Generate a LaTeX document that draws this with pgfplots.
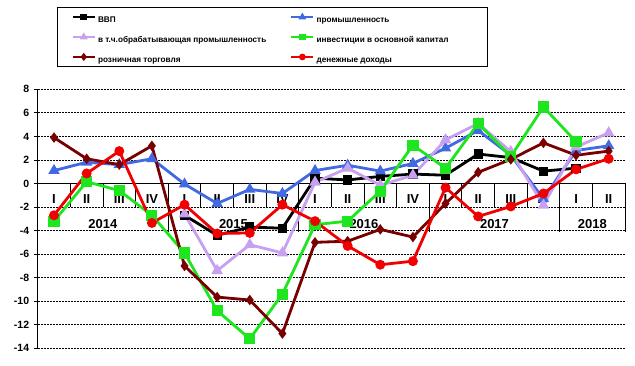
\documentclass[border=0pt]{standalone}
\usepackage{pgfplots}
\pgfplotsset{compat=1.18}
\usepackage{fontspec}
\setmainfont{Liberation Sans}
\definecolor{cBlue}{RGB}{65,105,225}
\definecolor{cPurple}{RGB}{200,160,240}
\definecolor{cGreen}{RGB}{30,230,30}
\definecolor{cBrown}{RGB}{120,0,0}
\definecolor{cRed}{RGB}{240,0,0}
\newcommand{\lstrut}{\rule[-6.1pt]{0pt}{18pt}}
\begin{document}
\begin{tikzpicture}[x=1pt,y=1pt]
\path[use as bounding box] (0,0) rectangle (635,365);
\begin{axis}[
  at={(37.7pt,16.7pt)}, anchor=south west,
  scale only axis, width=587.3pt, height=259pt,
  xmin=-0.5, xmax=17.5, ymin=-14, ymax=8,
  xtick=\empty, ytick={-14,-12,...,8},
  axis x line=none, axis y line=left,
  y axis line style={-, line width=0.9pt, black},
  ymajorgrids, grid style={black, line width=0.7pt, dash pattern=on 2pt off 1pt},
  tick align=outside, major tick length=3.5pt,
  ytick style={black, line width=0.8pt},
  /pgf/number format/assume math mode=true,
  yticklabel style={font=\bfseries\fontsize{10.5}{12}\selectfont, xshift=-1.5pt},
  clip=false,
  legend columns=2,
  legend cell align=left,
  legend style={at={(0.0329,1.3178)}, anchor=north west, draw=black, line width=0.9pt,
    inner xsep=14pt, inner ysep=3pt, row sep=6.5pt,
    nodes={inner sep=0pt},
    /tikz/every even column/.style={column sep=0pt},
    /tikz/every odd column/.style={column sep=0pt},
    font=\bfseries\fontsize{8.2}{10}\selectfont},
  legend image code/.code={\draw[mark repeat=2, mark phase=2, #1, line width=2.6pt, mark size=2pt] plot coordinates {(0pt,0pt)(11pt,0pt)(22pt,0pt)};},
  every axis plot/.append style={line width=2.8pt},
]
% category table
\draw[black, line width=0.9pt] (axis cs:-0.5,0) -- (axis cs:17.5,0);
\pgfplotsinvokeforeach{0.5,1.5,2.5,4.5,5.5,6.5,8.5,9.5,10.5,12.5,13.5,14.5,16.5}{
  \draw[black, line width=0.8pt] (axis cs:#1,0) -- (axis cs:#1,-2);}
\pgfplotsinvokeforeach{3.5,7.5,11.5,15.5,17.5}{
  \draw[black, line width=0.8pt] (axis cs:#1,0) -- (axis cs:#1,-4.1);}
\pgfplotsinvokeforeach{0,4,8,12,16}{
  \node[font=\bfseries\fontsize{13}{15}\selectfont] at (axis cs:#1,-1.3) {I};}
\pgfplotsinvokeforeach{1,5,9,13,17}{
  \node[font=\bfseries\fontsize{13}{15}\selectfont] at (axis cs:#1,-1.3) {II};}
\pgfplotsinvokeforeach{2,6,10,14}{
  \node[font=\bfseries\fontsize{13}{15}\selectfont] at (axis cs:#1,-1.3) {III};}
\pgfplotsinvokeforeach{3,7,11,15}{
  \node[font=\bfseries\fontsize{13}{15}\selectfont] at (axis cs:#1,-1.3) {IV};}
\node[font=\bfseries\fontsize{13}{15}\selectfont] at (axis cs:1.5,-3.45) {2014};
\node[font=\bfseries\fontsize{13}{15}\selectfont] at (axis cs:5.5,-3.45) {2015};
\node[font=\bfseries\fontsize{13}{15}\selectfont] at (axis cs:9.5,-3.45) {2016};
\node[font=\bfseries\fontsize{13}{15}\selectfont] at (axis cs:13.5,-3.45) {2017};
\node[font=\bfseries\fontsize{13}{15}\selectfont] at (axis cs:16.5,-3.45) {2018};

% ВВП
\addplot[black, mark=square*, mark size=3.2pt, mark options={solid}] coordinates {
(4,-2.7)(5,-4.4)(6,-3.7)(7,-3.8)(8,0.45)(9,0.3)(10,0.6)(11,0.8)(12,0.7)(13,2.5)(14,2.2)(15,1.05)(16,1.3)};
\addlegendentry{\makebox[194pt][l]{\hspace{2pt}ВВП\lstrut}}
% промышленность
\addplot[cBlue, mark=triangle*, mark size=3.8pt] coordinates {
(0,1.1)(1,1.8)(2,1.6)(3,2.1)(4,-0.05)(5,-1.7)(6,-0.5)(7,-0.85)(8,1.1)(9,1.55)(10,1.05)(11,1.7)(12,3.0)(13,4.5)(14,2.4)(15,-1.3)(16,2.8)(17,3.2)};
\addlegendentry{\makebox[159pt][l]{\hspace{2pt}промышленность\lstrut}}
% обрабатывающая
\addplot[cPurple, mark=triangle*, mark size=4pt] coordinates {
(4,-2.6)(5,-7.4)(6,-5.2)(7,-5.9)(8,0.1)(9,1.3)(10,-0.15)(11,0.7)(12,3.7)(13,5.1)(14,2.7)(15,-1.85)(16,3.1)(17,4.3)};
\addlegendentry{\makebox[194pt][l]{\hspace{2pt}в т.ч.обрабатывающая промышленность\lstrut}}
% инвестиции
\addplot[cGreen, mark=square*, mark size=4.2pt] coordinates {
(0,-3.2)(1,0.15)(2,-0.6)(3,-2.7)(4,-5.9)(5,-10.8)(6,-13.2)(7,-9.4)(8,-3.5)(9,-3.2)(10,-0.65)(11,3.25)(12,1.3)(13,5.1)(14,2.3)(15,6.5)(16,3.55)};
\addlegendentry{\makebox[159pt][l]{\hspace{2pt}инвестиции в основной капитал\lstrut}}
% розничная торговля
\addplot[cBrown, mark=diamond*, mark size=3pt] coordinates {
(0,3.9)(1,2.1)(2,1.6)(3,3.2)(4,-7.0)(5,-9.65)(6,-9.9)(7,-12.75)(8,-5.0)(9,-4.9)(10,-3.9)(11,-4.55)(12,-1.7)(13,0.95)(14,2.05)(15,3.45)(16,2.4)(17,2.75)};
\addlegendentry{\makebox[194pt][l]{\hspace{2pt}розничная торговля\lstrut}}
% денежные доходы
\addplot[cRed, mark=*, mark size=3.5pt] coordinates {
(0,-2.7)(1,0.85)(2,2.75)(3,-3.35)(4,-1.8)(5,-4.25)(6,-4.2)(7,-1.8)(8,-3.2)(9,-5.3)(10,-6.9)(11,-6.6)(12,-0.35)(13,-2.8)(14,-1.95)(15,-0.85)(16,1.2)(17,2.1)};
\addlegendentry{\makebox[159pt][l]{\hspace{2pt}денежные доходы\lstrut}}
\end{axis}
\end{tikzpicture}
\end{document}
